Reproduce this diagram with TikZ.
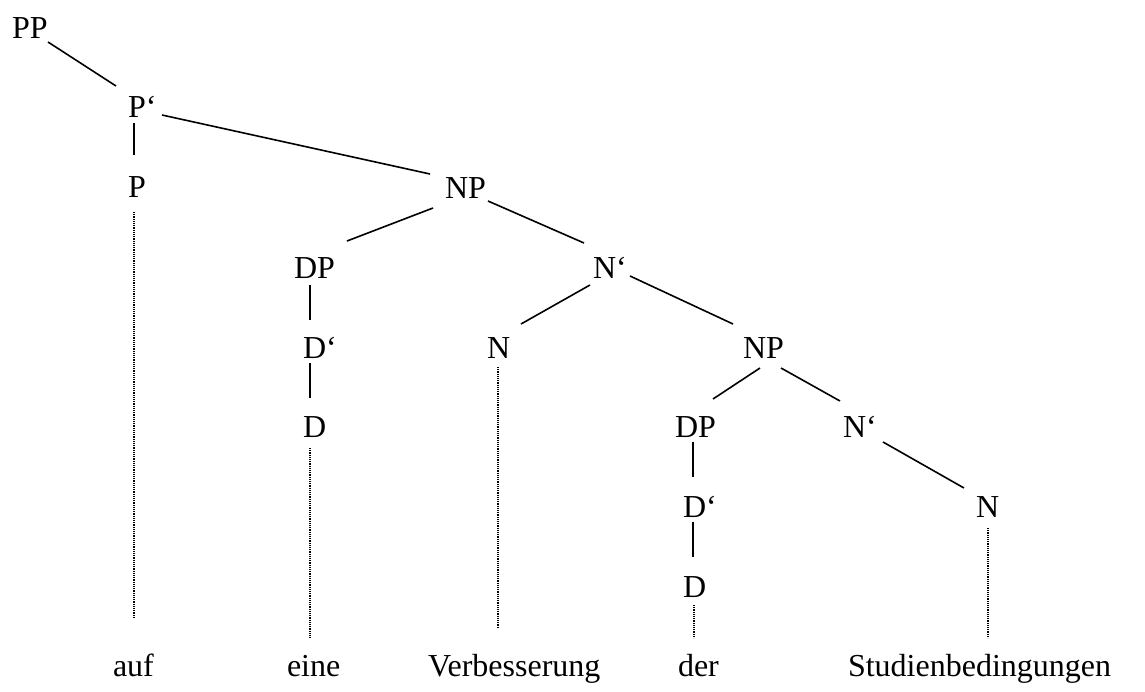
\documentclass[tikz,border=0pt]{standalone}
\usepackage{fontspec}
\setmainfont{Liberation Serif}
\begin{document}
\begin{tikzpicture}[x=0.5pt,y=-0.5pt,
  lbl/.style={anchor=base west,inner sep=0pt,outer sep=0pt,font=\fontsize{16}{19}\selectfont},
  edge/.style={line width=0.8pt},
  dots/.style={line width=0.75pt,dash pattern=on 0.55pt off 0.55pt}]
\useasboundingbox (0,0) rectangle (1145,691);
% nodes
\node[lbl] (PP)   at (12,38)   {PP};
\node[lbl] (Pb)   at (128,117) {P‘};
\node[lbl] (P)    at (128,197) {P};
\node[lbl] (NPa)  at (445,198) {NP};
\node[lbl] (DPa)  at (294,278) {DP};
\node[lbl] (Nba)  at (593,278) {N‘};
\node[lbl] (Dba)  at (303,358) {D‘};
\node[lbl] (Na)   at (487,358) {N};
\node[lbl] (Da)   at (303,437) {D};
\node[lbl] (NPb)  at (743,358) {NP};
\node[lbl] (DPb)  at (675,437) {DP};
\node[lbl] (Nbb)  at (843,437) {N‘};
\node[lbl] (Dbb)  at (683,517) {D‘};
\node[lbl] (Db)   at (683,597) {D};
\node[lbl] (Nb)   at (976,517) {N};
\node[lbl] (w1)   at (113,676) {auf};
\node[lbl] (w2)   at (287,676) {eine};
\node[lbl] (w3)   at (428,676) {Verbesserung};
\node[lbl] (w4)   at (678,676) {der};
\node[lbl] (w5)   at (848,676) {Studienbedingungen};
% solid branches
\draw[edge] ([shift={(36,4)}]PP.base west) -- ([shift={(-12,-31)}]Pb.base west);
\draw[edge] ([shift={(6,6)}]Pb.base west) -- ([shift={(6,-42)}]P.base west);
\draw[edge] ([shift={(34,-2)}]Pb.base west) -- ([shift={(-15,-24)}]NPa.base west);
\draw[edge] ([shift={(-12,10)}]NPa.base west) -- ([shift={(53,-37)}]DPa.base west);
\draw[edge] ([shift={(43,3)}]NPa.base west) -- ([shift={(-9,-35)}]Nba.base west);
\draw[edge] ([shift={(16,7)}]DPa.base west) -- ([shift={(7,-38)}]Dba.base west);
\draw[edge] ([shift={(7,5)}]Dba.base west) -- ([shift={(7,-39)}]Da.base west);
\draw[edge] ([shift={(-3,7)}]Nba.base west) -- ([shift={(34,-34)}]Na.base west);
\draw[edge] ([shift={(37,-2)}]Nba.base west) -- ([shift={(-10,-34)}]NPb.base west);
\draw[edge] ([shift={(17,10)}]NPb.base west) -- ([shift={(38,-38)}]DPb.base west);
\draw[edge] ([shift={(38,10)}]NPb.base west) -- ([shift={(-3,-36)}]Nbb.base west);
\draw[edge] ([shift={(18,5)}]DPb.base west) -- ([shift={(10,-40)}]Dbb.base west);
\draw[edge] ([shift={(10,5)}]Dbb.base west) -- ([shift={(10,-40)}]Db.base west);
\draw[edge] ([shift={(40,5)}]Nbb.base west) -- ([shift={(-12,-29)}]Nb.base west);
% dotted lines to words
\draw[dots] ([shift={(6,15)}]P.base west) -- ([shift={(21,-59)}]w1.base west);
\draw[dots] ([shift={(7,11)}]Da.base west) -- ([shift={(23,-38)}]w2.base west);
\draw[dots] ([shift={(11,9)}]Na.base west) -- ([shift={(70,-48)}]w3.base west);
\draw[dots] ([shift={(11,8)}]Db.base west) -- ([shift={(16,-38)}]w4.base west);
\draw[dots] ([shift={(12,11)}]Nb.base west) -- ([shift={(140,-38)}]w5.base west);
\end{tikzpicture}
\end{document}
